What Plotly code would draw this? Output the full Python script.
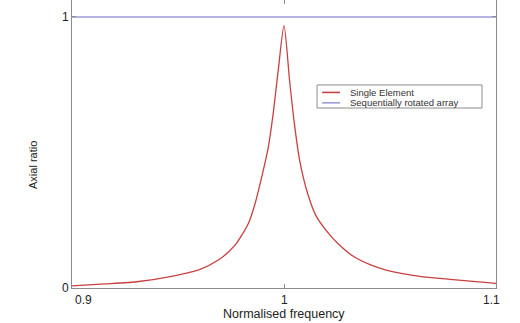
import plotly.graph_objects as go

# Normalised frequency sample points and axial ratio of a single element
freq_single = [0.900, 0.9156, 0.9315, 0.947, 0.9598, 0.9692, 0.977, 0.9833,
               0.9863, 0.9895, 0.9926, 0.9950, 0.9973, 1.0000, 1.0027, 1.0050,
               1.0074, 1.0113, 1.0152, 1.0217, 1.0264, 1.0325, 1.0406, 1.0486,
               1.064, 1.0797, 1.100]
ar_single = [0.008, 0.015, 0.024, 0.043, 0.067, 0.104, 0.159, 0.240,
             0.310, 0.410, 0.520, 0.650, 0.805, 0.968, 0.760, 0.600,
             0.470, 0.345, 0.265, 0.195, 0.157, 0.118, 0.086, 0.065,
             0.043, 0.031, 0.017]

# Sequentially rotated array: flat response across the band
freq_array = [0.900, 1.100]
ar_array = [1.0, 1.0]

x_ticks = [0.9, 1.0, 1.1]
x_tick_labels = ["0.9", "1", "1.1"]
y_ticks = [0, 1]
y_tick_labels = ["0", "1"]

series_names = ["Single Element", "Sequentially rotated array"]
series_colors = ["#c94040", "#9d9dda"]

FONT = "Liberation Sans, Arial, sans-serif"
AXIS_GREY = "#8c8c8c"

fig = go.Figure()
fig.add_trace(go.Scatter(x=freq_single, y=ar_single, mode="lines",
                         name=series_names[0],
                         line=dict(color=series_colors[0], width=1.3,
                                   shape="spline", smoothing=0.7)))
fig.add_trace(go.Scatter(x=freq_array, y=ar_array, mode="lines",
                         name=series_names[1],
                         line=dict(color=series_colors[1], width=1.6)))

axis_common = dict(showgrid=False, zeroline=False, showline=True,
                   linecolor=AXIS_GREY, linewidth=1, mirror="ticks",
                   ticks="inside", ticklen=4, tickcolor=AXIS_GREY,
                   tickfont=dict(family=FONT, size=12, color="#222"))

annotations = []
# x tick labels pulled inward at the ends of the axis
x_label_pos = [("left", 1), ("center", 0), ("right", 6)]
for val, txt, (anchor, shift) in zip(x_ticks, x_tick_labels, x_label_pos):
    annotations.append(dict(text=txt, x=val, xref="x", y=-0.042, yref="paper",
                            xanchor=anchor, yanchor="middle", xshift=shift,
                            showarrow=False,
                            font=dict(family=FONT, size=12, color="#222")))

annotations.append(dict(text="Normalised frequency", xref="paper", yref="paper",
                        x=0.5, y=-0.090, xanchor="center", yanchor="middle",
                        showarrow=False,
                        font=dict(family=FONT, size=12.5, color="#222")))
annotations.append(dict(text="Axial ratio", xref="paper", yref="paper",
                        x=-0.092, y=0.427, xanchor="center", yanchor="middle",
                        textangle=-90, showarrow=False,
                        font=dict(family=FONT, size=11, color="#222")))

# legend box drawn with shapes and text
leg_x0, leg_x1, leg_y0, leg_y1 = 0.578, 0.967, 0.625, 0.705
shapes = [dict(type="rect", xref="paper", yref="paper",
               x0=leg_x0, x1=leg_x1, y0=leg_y0, y1=leg_y1,
               line=dict(color=AXIS_GREY, width=1), fillcolor="white",
               layer="above")]
for name, color, yy in zip(series_names, series_colors, [0.679, 0.643]):
    shapes.append(dict(type="line", xref="paper", yref="paper",
                       x0=0.590, x1=0.632, y0=yy, y1=yy,
                       line=dict(color=color, width=1.6), layer="above"))
    annotations.append(dict(text=name, xref="paper", yref="paper",
                            x=0.651, y=yy, xanchor="left", yanchor="middle",
                            showarrow=False,
                            font=dict(family=FONT, size=9.5, color="#333")))

fig.update_layout(
    width=520, height=323,
    margin=dict(l=72, r=24, t=0, b=35),
    paper_bgcolor="white", plot_bgcolor="white",
    showlegend=False,
    xaxis=dict(range=[0.9, 1.1], tickvals=x_ticks, showticklabels=False,
               **axis_common),
    yaxis=dict(range=[0, 1.0627], tickvals=y_ticks, ticktext=y_tick_labels,
               **axis_common),
    shapes=shapes,
    annotations=annotations,
)

fig.write_html("out.html")
